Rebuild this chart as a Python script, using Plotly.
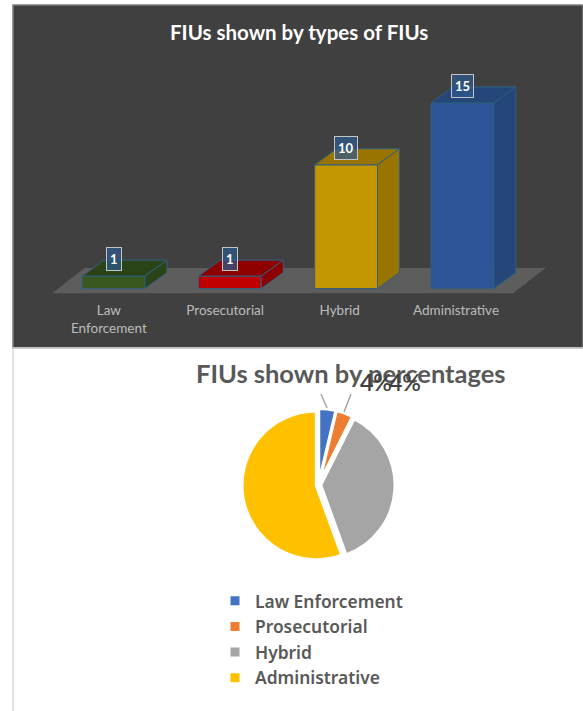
import plotly.graph_objects as go

categories = ["Law Enforcement", "Prosecutorial", "Hybrid", "Administrative"]
tick_labels = ["Law<br>Enforcement", "Prosecutorial", "Hybrid", "Administrative"]
tick_positions = [-0.04, 0.96, 1.945, 2.945]
counts = [1, 1, 10, 15]
front_colors = ["#38581f", "#c00000", "#c49600", "#2c5497"]
shade_colors = ["#2a4417", "#8e0000", "#997500", "#244679"]
pie_colors = ["#4472c4", "#ed7d31", "#a5a5a5", "#ffc000"]

W, H = 583, 711
PANEL_LEFT, PANEL_TOP, PANEL_BOTTOM = 13, 5, 348
UNIT_X, X0 = 116.3, 113.5      # px per category, px of first bar centre
UNIT_Y, Y0 = 12.37, 288.5      # px per count, px of baseline
BAR_W = 0.54
DX, DY = 22 / UNIT_X, 16 / UNIT_Y   # oblique depth in data units
FONT = "Lato, Carlito, sans-serif"

x_range = [-X0 / UNIT_X, (W - X0) / UNIT_X]
y_range = [(Y0 - PANEL_BOTTOM) / UNIT_Y, (Y0 - PANEL_TOP) / UNIT_Y]
panel_dom = [1 - PANEL_BOTTOM / H, 1 - PANEL_TOP / H]

fig = go.Figure()

# top and side faces of each bar
for i, v in enumerate(counts):
    l, r = i - BAR_W / 2, i + BAR_W / 2
    outline = dict(color="#2f6080", width=1)
    fig.add_trace(go.Scatter(
        x=[l, r, r + DX, l + DX, l], y=[v, v, v + DY, v + DY, v],
        mode="lines", fill="toself", fillcolor=shade_colors[i], line=outline,
        hoverinfo="skip", showlegend=False))
    fig.add_trace(go.Scatter(
        x=[r, r + DX, r + DX, r, r], y=[0, DY, v + DY, v, 0],
        mode="lines", fill="toself", fillcolor=shade_colors[i], line=outline,
        hoverinfo="skip", showlegend=False))

# front faces
fig.add_trace(go.Bar(
    x=list(range(len(counts))), y=counts, width=BAR_W,
    marker=dict(color=front_colors, line=dict(color="#2f6080", width=1)),
    showlegend=False, hoverinfo="x+y"))

# percentage pie
fig.add_trace(go.Pie(
    labels=categories, values=counts, sort=False, direction="clockwise",
    rotation=0, pull=[0.03, 0.03, 0.03, 0.03], textinfo="none",
    marker=dict(colors=pie_colors, line=dict(color="white", width=3)),
    domain=dict(x=[242 / W, 395 / W], y=[1 - 561.5 / H, 1 - 408.5 / H]),
    showlegend=True, hoverinfo="label+percent"))

annotations = []
for i, v in enumerate(counts):
    annotations.append(dict(
        x=i, y=v, xref="x", yref="y", yshift=17, text=f"<b>{v}</b>",
        showarrow=False, font=dict(family=FONT, size=13, color="white"),
        bgcolor="rgba(45,90,140,0.72)", bordercolor="#c4c4c4", borderwidth=1,
        borderpad=3))

annotations.append(dict(
    x=299 / W, y=1 - 32 / H, xref="paper", yref="paper", xanchor="center", yanchor="middle",
    text="<b>FIUs shown by types of FIUs</b>",
    showarrow=False, font=dict(family=FONT, size=20.5, color="white")))
annotations.append(dict(
    x=351 / W, y=1 - 373 / H, xref="paper", yref="paper", xanchor="center", yanchor="middle",
    text="<b>FIUs shown by percentages</b>",
    showarrow=False, font=dict(family=FONT, size=25.5, color="#595959")))

total = sum(counts)
for i, px in enumerate([376, 405]):
    annotations.append(dict(
        x=px / W, y=1 - 382 / H, xref="paper", yref="paper", xanchor="center", yanchor="middle",
        text=f"{round(100 * counts[i] / total)}%", showarrow=False,
        font=dict(family=FONT, size=23, color="#404040", weight=600)))

fl, fr = -0.528, 3.436
shapes = [
    dict(type="rect", xref="paper", yref="paper", x0=PANEL_LEFT / W, x1=1, y0=panel_dom[0], y1=panel_dom[1],
         fillcolor="#404040", line=dict(color="#7f7f7f", width=1.5), layer="below"),
    dict(type="path", xref="x", yref="y", layer="below", fillcolor="#5d5d5d", line=dict(width=0),
         path=f"M{fl},-0.38 L{fr},-0.38 L{fr + 0.28},1.65 L{fl + 0.28},1.65 Z"),
    dict(type="line", xref="paper", yref="paper", x0=PANEL_LEFT / W, x1=PANEL_LEFT / W, y0=0, y1=panel_dom[0],
         line=dict(color="#d9d9d9", width=1.5)),
    dict(type="line", xref="paper", yref="paper", x0=PANEL_LEFT / W, x1=1, y0=panel_dom[0], y1=panel_dom[0],
         line=dict(color="#d9d9d9", width=1.5)),
    dict(type="line", xref="paper", yref="paper", x0=321 / W, x1=327 / W, y0=1 - 394 / H, y1=1 - 408 / H,
         line=dict(color="#a6a6a6", width=1.5)),
    dict(type="line", xref="paper", yref="paper", x0=351 / W, x1=344 / W, y0=1 - 394 / H, y1=1 - 412 / H,
         line=dict(color="#a6a6a6", width=1.5)),
]

fig.update_layout(
    width=W, height=H, margin=dict(l=0, r=0, t=0, b=0),
    paper_bgcolor="white", plot_bgcolor="rgba(0,0,0,0)",
    barmode="overlay", annotations=annotations, shapes=shapes,
    font=dict(family=FONT),
    xaxis=dict(range=x_range, domain=[0, 1], anchor="free", position=1 - 300.5 / H,
               tickmode="array", tickvals=tick_positions,
               ticktext=tick_labels, ticks="", showgrid=False, zeroline=False, showline=False,
               tickfont=dict(family=FONT, size=13.5, color="#bcbcbc"), fixedrange=True),
    yaxis=dict(range=y_range, domain=panel_dom, visible=False, fixedrange=True),
    legend=dict(x=215 / W, y=1 - 583 / H, xanchor="left", yanchor="top",
                font=dict(family="Noto Sans", size=17.4, color="#595959", weight=600),
                bgcolor="rgba(0,0,0,0)", itemclick=False, itemdoubleclick=False),
)

fig.write_html("out.html", config=dict(displayModeBar=False),
               post_script="document.body.style.margin='0';document.body.style.overflow='hidden';")
